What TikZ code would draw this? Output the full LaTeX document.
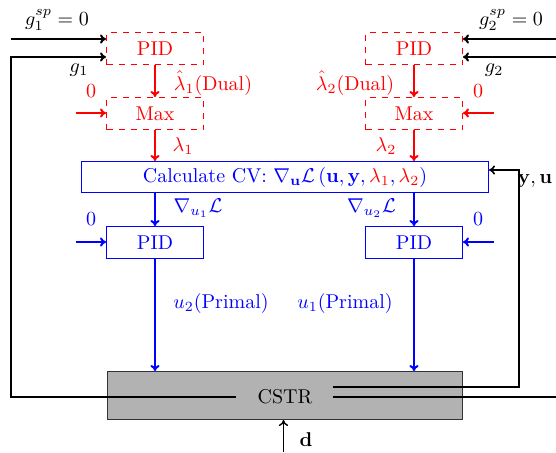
\documentclass[tikz,border=0pt]{standalone}
\usepackage{amsmath}
\usetikzlibrary{calc,arrows.meta}
\begin{document}
\begin{tikzpicture}[x=0.5pt,y=-0.5pt,>={To[length=3pt,width=4.6pt]},
  dualbox/.style={draw=red,dashed,text=red,line width=0.5pt,minimum width=48.5pt,minimum height=16pt,inner sep=0pt},
  primbox/.style={draw=blue,text=blue,line width=0.5pt,minimum width=48.5pt,minimum height=16pt,inner sep=0pt},
  redarr/.style={->,draw=red,line width=1pt},
  bluearr/.style={->,draw=blue,line width=1pt},
  blkarr/.style={->,draw=black,line width=1pt},
  blkline/.style={draw=black,line width=1pt},
  lbl/.style={inner sep=0pt}]
\useasboundingbox (0,0) rectangle (556,452);
% boxes
\node[dualbox] (pid1) at (155,48.5) {PID};
\node[dualbox] (max1) at (155,113.5) {Max};
\node[dualbox] (pid2) at (414,48.5) {PID};
\node[dualbox] (max2) at (414,113.5) {Max};
\node[draw=blue,text=blue,line width=0.5pt,minimum width=203.5pt,minimum height=15.5pt,inner sep=0pt] (cv) at (285,177)
  {Calculate CV: $\nabla_{\mathbf{u}}\mathcal{L}\left(\mathbf{u},\mathbf{y},\textcolor{red}{\lambda_1},\textcolor{red}{\lambda_2}\right)$};
\node[primbox] (pidL) at (155,242.5) {PID};
\node[primbox] (pidR) at (414,242.5) {PID};
\node[draw=black!80,fill=black!30,line width=0.5pt,minimum width=177.5pt,minimum height=24pt,inner sep=0pt] (cstr) at (285,395.5) {};
\node[lbl] (cstrlbl) at (285,397) {CSTR};
% coordinates
\coordinate (cl) at (236,397);
\coordinate (cr1) at (333,387);
\coordinate (cr2) at (333,397);
\coordinate (lbot) at (11,397);
\coordinate (ltop) at (11,57);
\coordinate (g1s) at (11,39);
\coordinate (g2s) at (556,39);
\coordinate (g2f) at (556,57);
\coordinate (rbot) at (556,397);
\coordinate (fbb) at (519,387);
\coordinate (fbt) at (519,170);
\coordinate (z1) at (76,113);
\coordinate (z2) at (494,113);
\coordinate (z3) at (76,242);
\coordinate (z4) at (494,242);
\coordinate (dd) at (283.5,452);
% black connectors
\draw[blkarr] (g1s) -- (g1s -| pid1.west);
\draw[blkarr] (cl) -- (lbot) -- (ltop) -- (ltop -| pid1.west);
\draw[blkarr] (g2s) -- (g2s -| pid2.east);
\draw[blkarr] (g2f) -- (g2f -| pid2.east);
\draw[blkline] (cr2) -- (rbot);
\draw[->,draw=black,line width=0.8pt] (cr1) -- (fbb) -- (fbt) -- (fbt -| cv.east);
\draw[->,draw=black,line width=0.7pt] (dd) -- (dd |- cstr.south);
% red connectors
\draw[redarr] (pid1) -- (max1);
\draw[redarr] (pid2) -- (max2);
\draw[redarr] (max1) -- (max1 |- cv.north);
\draw[redarr] (max2) -- (max2 |- cv.north);
\draw[redarr] (z1) -- (z1 -| max1.west);
\draw[redarr] (z2) -- (z2 -| max2.east);
% blue connectors
\draw[bluearr] (pidL |- cv.south) -- (pidL);
\draw[bluearr] (pidR |- cv.south) -- (pidR);
\draw[bluearr] (z3) -- (z3 -| pidL.west);
\draw[bluearr] (z4) -- (z4 -| pidR.east);
\draw[bluearr] (pidL) -- (pidL |- cstr.north);
\draw[bluearr] (pidR) -- (pidR |- cstr.north);
% labels
\node[lbl] at (57,20) {$g_1^{sp}=0$};
\node[lbl] at (511,20) {$g_2^{sp}=0$};
\node[lbl] at (79,70) {$g_1$};
\node[lbl] at (494,70) {$g_2$};
\node[lbl,text=red] at (213,83) {$\hat{\lambda}_1$(Dual)};
\node[lbl,text=red] at (355,83) {$\hat{\lambda}_2$(Dual)};
\node[lbl,text=red] at (91,91) {0};
\node[lbl,text=red] at (478,91) {0};
\node[lbl,text=red] at (183,146) {$\lambda_1$};
\node[lbl,text=red] at (386,146) {$\lambda_2$};
\node[lbl,text=blue] at (198,208) {$\nabla_{u_1}\mathcal{L}$};
\node[lbl,text=blue] at (371.5,208) {$\nabla_{u_2}\mathcal{L}$};
\node[lbl,text=blue] at (91,219) {0};
\node[lbl,text=blue] at (478,219) {0};
\node[lbl,text=blue] at (221,303) {$u_2$(Primal)};
\node[lbl,text=blue] at (345,303) {$u_1$(Primal)};
\node[lbl] at (535,181) {$\mathbf{y},\mathbf{u}$};
\node[lbl] at (306,440) {$\mathbf{d}$};
\end{tikzpicture}
\end{document}
